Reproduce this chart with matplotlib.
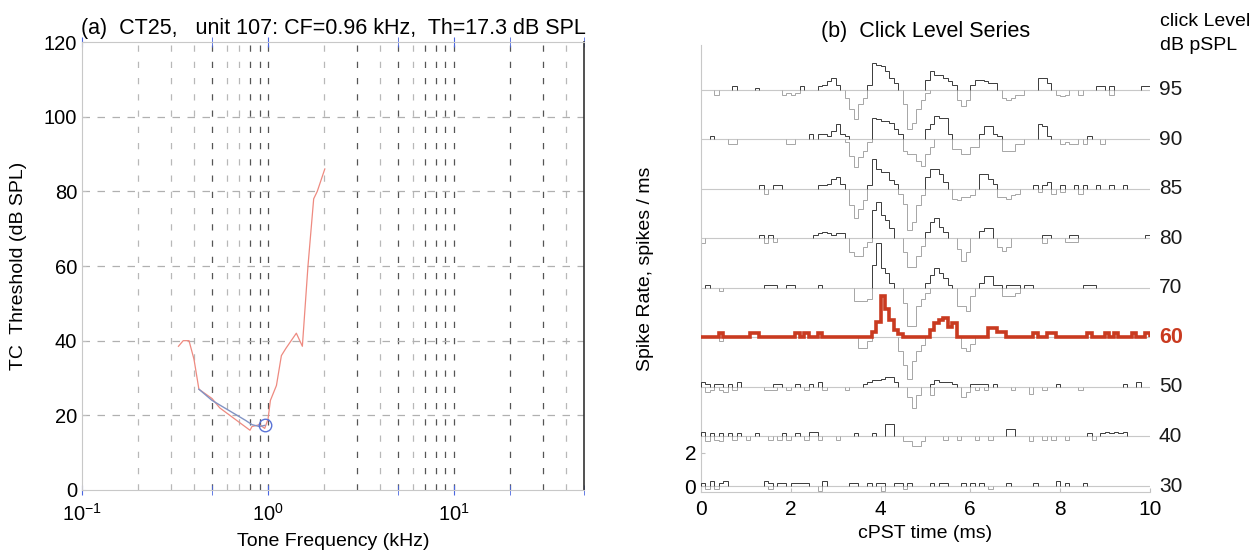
import numpy as np
import matplotlib.pyplot as plt

plt.rcParams['font.family'] = ['Liberation Sans', 'DejaVu Sans']

# ---------------- panel (a): tuning curve ----------------
tc_freq = [0.33, 0.35, 0.376, 0.40, 0.425, 0.50, 0.55, 0.80, 0.82, 0.90, 0.96, 1.00,
           1.03, 1.11, 1.18, 1.25, 1.42, 1.53, 1.64, 1.76, 1.84, 2.02]
tc_thr = [38.5, 40, 40, 35, 27, 24.5, 22, 16, 17, 17.5, 16.5, 19,
          24, 28, 36, 38, 42, 38.5, 60, 78, 80, 86]
fit_freq = [0.425, 0.50, 0.76, 0.82, 0.90, 0.96]
fit_thr = [27, 24, 18.6, 17.5, 17, 17.3]
cf_khz = 0.96
cf_thr = 17.3

# ---------------- panel (b): click level series ----------------
# cPST histograms, 0.1 ms bins from 0 to 10 ms (spikes/ms)
# up = condensation-click half (drawn upward), dn = rarefaction half (drawn downward)
levels = [95, 90, 85, 80, 70, 60, 50, 40, 30]
offsets = [24, 21, 18, 15, 12, 9, 6, 3, 0]

up95 = [0, 0, 0, 0, 0, 0, 0, 0.2, 0, 0,   0, 0, 0.1, 0, 0, 0, 0, 0, 0, 0,
        0, 0, 0.2, 0, 0, 0, 0.2, 0.3, 0.5, 0.7,   0.3, 0, 0, 0, 0, 0, 0, 0.3, 1.6, 1.5,
        1.4, 1.1, 0.7, 0.4, 0, 0, 0, 0, 0, 0,   0.6, 1.1, 0.9, 0.9, 0.7, 0.5, 0.3, 0, 0, 0,
        0.3, 0.6, 0.6, 0.5, 0.4, 0.4, 0, 0, 0, 0,   0, 0, 0, 0, 0, 0.7, 0.7, 0.4, 0, 0,
        0, 0, 0, 0, 0, 0, 0, 0, 0.2, 0.2,   0, 0.2, 0, 0, 0, 0, 0, 0, 0.2, 0.2]
dn95 = [0, 0, 0, 0.3, 0, 0, 0, 0, 0, 0,   0, 0, 0, 0, 0, 0, 0, 0, 0.3, 0.2,
        0.3, 0.2, 0, 0, 0, 0, 0, 0, 0, 0,   0, 0, 0.5, 1.2, 1.8, 0.9, 0.5, 0, 0, 0,
        0, 0, 0, 0, 0, 0.9, 2.4, 2.0, 1.2, 0.6,   0.2, 0, 0, 0, 0, 0, 0, 0.6, 1.0, 0.6,
        0, 0, 0, 0, 0, 0, 0, 0.5, 0.6, 0.5,   0.3, 0.3, 0, 0, 0, 0, 0, 0, 0, 0.3,
        0.4, 0.3, 0, 0, 0.3, 0, 0, 0, 0, 0,   0, 0.3, 0, 0, 0, 0, 0, 0, 0, 0]

up90 = [0, 0, 0.2, 0, 0, 0, 0, 0, 0, 0,   0, 0, 0, 0, 0, 0, 0, 0, 0, 0,
        0, 0, 0, 0, 0.3, 0, 0.3, 0.3, 0.2, 0.5,   0.9, 0.3, 0.2, 0, 0, 0, 0, 0, 1.3, 1.2,
        1.1, 1.1, 1.0, 0.6, 0.3, 0, 0, 0, 0, 0,   0.6, 0.9, 1.4, 1.3, 1.3, 0.3, 0, 0, 0, 0,
        0, 0, 0.3, 0.8, 0.8, 0.3, 0.2, 0, 0, 0,   0, 0, 0, 0, 0, 0.9, 0.8, 0.2, 0, 0,
        0, 0, 0, 0, 0, 0, 0.2, 0, 0, 0,   0, 0, 0, 0, 0, 0, 0, 0, 0, 0]
dn90 = [0, 0, 0, 0, 0, 0, 0.3, 0.3, 0, 0,   0, 0, 0, 0, 0, 0, 0, 0, 0, 0.3,
        0.3, 0, 0, 0, 0, 0, 0, 0, 0, 0,   0, 0, 0.2, 1.0, 1.7, 1.1, 0.7, 0.2, 0, 0,
        0, 0, 0, 0, 0, 0.7, 0.9, 0.9, 1.3, 1.6,   0.9, 0.5, 0, 0, 0, 0, 0.6, 0.6, 0.9, 0.9,
        0.5, 0.5, 0, 0, 0, 0, 0, 0.7, 0.7, 0.7,   0.3, 0.3, 0, 0, 0, 0, 0, 0, 0, 0,
        0.3, 0.2, 0.3, 0.3, 0, 0.3, 0, 0, 0, 0.3,   0, 0, 0, 0, 0, 0, 0, 0, 0, 0]

up85 = [0, 0, 0, 0, 0, 0, 0, 0, 0, 0,   0, 0, 0, 0.2, 0, 0, 0.2, 0.2, 0, 0,
        0, 0, 0, 0, 0, 0, 0.2, 0.2, 0.3, 0.6,   0.7, 0.3, 0, 0, 0, 0, 0, 0.2, 1.8, 1.2,
        1.0, 1.0, 0.5, 0.3, 0, 0, 0, 0, 0, 0,   0.7, 1.2, 1.2, 0.9, 0.4, 0, 0, 0, 0, 0,
        0, 0, 0.9, 0.9, 0.6, 0.3, 0, 0, 0, 0,   0, 0, 0, 0, 0.2, 0, 0.2, 0.4, 0, 0,
        0.2, 0, 0, 0.2, 0, 0.2, 0, 0, 0.2, 0,   0, 0.2, 0, 0, 0.2, 0, 0, 0, 0, 0]
dn85 = [0, 0, 0, 0, 0, 0, 0, 0, 0, 0,   0, 0, 0, 0, 0.3, 0, 0, 0, 0, 0,
        0, 0, 0, 0, 0, 0, 0, 0, 0, 0,   0, 0, 0, 1.0, 1.8, 1.2, 0.7, 0, 0, 0,
        0, 0, 0, 0, 0.3, 0.9, 2.5, 2.0, 1.0, 0.4,   0, 0, 0, 0, 0, 0, 0.6, 0.7, 0.5, 0.5,
        0.4, 0, 0, 0, 0, 0, 0.5, 0.5, 0.6, 0.4,   0.3, 0, 0, 0, 0, 0.2, 0, 0, 0.3, 0,
        0.2, 0, 0, 0, 0.3, 0, 0, 0, 0, 0,   0, 0, 0, 0, 0, 0, 0, 0, 0, 0]

up80 = [0, 0, 0, 0, 0, 0, 0, 0, 0, 0,   0, 0, 0, 0.2, 0, 0.2, 0, 0, 0, 0,
        0, 0, 0, 0, 0, 0.2, 0.3, 0.4, 0.3, 0.2,   0.3, 0.3, 0, 0, 0, 0, 0, 0, 1.7, 2.2,
        1.4, 1.1, 0.6, 0, 0, 0, 0, 0, 0, 0,   0.35, 1.0, 1.2, 0.7, 0.35, 0, 0, 0, 0, 0,
        0, 0, 0.45, 0.65, 0.65, 0, 0, 0, 0, 0,   0, 0, 0, 0, 0, 0, 0.2, 0.2, 0, 0,
        0, 0, 0.2, 0.2, 0, 0, 0, 0, 0, 0,   0, 0, 0, 0, 0, 0, 0, 0, 0, 0.2]
dn80 = [0.3, 0, 0, 0, 0, 0, 0, 0, 0, 0,   0, 0, 0, 0, 0.3, 0, 0.2, 0, 0, 0,
        0, 0, 0, 0, 0, 0, 0, 0, 0, 0,   0, 0, 0, 0.85, 1.05, 1.05, 0.55, 0.2, 0, 0,
        0, 0, 0, 0, 0, 0.85, 1.75, 1.75, 1.05, 0.45,   0, 0, 0, 0, 0, 0, 0, 0.65, 1.35, 0.85,
        0, 0, 0, 0, 0, 0, 0.55, 0.75, 0.55, 0,   0, 0, 0, 0, 0, 0, 0.3, 0, 0, 0,
        0, 0.2, 0.2, 0.2, 0, 0, 0, 0, 0, 0,   0, 0, 0, 0, 0, 0, 0, 0, 0, 0]

up70 = [0, 0.2, 0, 0, 0, 0, 0, 0, 0, 0,   0, 0, 0, 0, 0.2, 0.2, 0.2, 0, 0, 0.2,
        0.2, 0, 0, 0, 0, 0, 0.2, 0, 0, 0,   0, 0, 0, 0, 0, 0, 0, 0, 1.4, 2.7,
        1.2, 0.9, 0.3, 0, 0, 0, 0, 0, 0, 0,   0.3, 0.8, 1.2, 0.9, 0.6, 0.2, 0, 0, 0, 0,
        0, 0, 0.3, 0.7, 0.7, 0.2, 0.2, 0, 0.2, 0.2,   0.2, 0, 0.2, 0.2, 0, 0, 0, 0, 0, 0,
        0, 0, 0, 0, 0, 0.2, 0.2, 0.2, 0, 0,   0, 0, 0, 0, 0, 0, 0, 0, 0, 0]
dn70 = [0, 0, 0, 0, 0.2, 0, 0, 0, 0, 0,   0, 0, 0, 0, 0, 0, 0, 0, 0, 0,
        0, 0, 0, 0, 0, 0, 0, 0, 0, 0,   0, 0, 0, 0, 0.8, 0.8, 0.8, 0.7, 0, 0,
        0, 0, 0, 0, 0, 0.9, 2.3, 2.3, 1.1, 0.7,   0.3, 0, 0, 0, 0, 0, 0, 1.1, 1.1, 1.4,
        0.5, 0, 0, 0, 0, 0, 0, 0.5, 0.5, 0.5,   0.3, 0, 0, 0, 0, 0, 0, 0, 0, 0,
        0, 0, 0, 0, 0, 0, 0, 0, 0, 0,   0, 0, 0, 0, 0, 0, 0, 0, 0, 0]

up60 = [0, 0, 0, 0, 0.25, 0, 0, 0, 0, 0,   0, 0.25, 0.25, 0, 0, 0, 0, 0, 0, 0,
        0, 0.25, 0, 0.25, 0, 0, 0.25, 0, 0, 0,   0, 0, 0, 0, 0, 0, 0, 0, 0.35, 0.9,
        2.5, 1.7, 1.05, 0.45, 0.2, 0, 0, 0, 0, 0,   0, 0.45, 0.85, 1.05, 1.15, 0.65, 0.85, 0, 0, 0,
        0, 0, 0, 0, 0.55, 0.55, 0.35, 0.35, 0, 0,   0, 0, 0, 0, 0.25, 0, 0, 0.25, 0.25, 0,
        0, 0, 0, 0, 0, 0, 0.25, 0, 0, 0,   0.25, 0, 0.25, 0, 0, 0, 0.25, 0, 0, 0.25]
dn60 = [0, 0, 0, 0, 0.2, 0, 0, 0, 0, 0,   0, 0, 0, 0, 0, 0, 0, 0, 0, 0,
        0, 0, 0, 0, 0, 0, 0, 0, 0, 0,   0, 0, 0, 0, 0, 0.65, 0.65, 0.25, 0, 0,
        0, 0, 0, 0, 0.85, 1.65, 2.55, 1.45, 0.85, 0.45,   0, 0, 0, 0, 0, 0, 0, 0, 0.65, 0.85,
        0.4, 0, 0, 0, 0, 0, 0, 0, 0, 0,   0, 0, 0, 0, 0, 0, 0, 0, 0, 0,
        0, 0, 0, 0, 0, 0, 0, 0, 0, 0,   0, 0, 0, 0, 0, 0, 0, 0, 0, 0]

up50 = [0.3, 0.2, 0, 0.2, 0.2, 0, 0.2, 0, 0.3, 0,   0, 0, 0, 0, 0, 0, 0.2, 0.2, 0, 0,
        0, 0.2, 0, 0, 0.2, 0, 0.3, 0, 0, 0,   0, 0, 0, 0, 0, 0, 0.2, 0.3, 0.4, 0.4,
        0.45, 0.6, 0.6, 0.3, 0, 0, 0, 0, 0, 0,   0, 0.2, 0.4, 0.3, 0.3, 0.3, 0.2, 0, 0, 0,
        0.2, 0.2, 0.2, 0.2, 0, 0.2, 0, 0, 0, 0,   0, 0, 0, 0, 0, 0, 0, 0, 0, 0.2,
        0, 0, 0, 0, 0, 0, 0, 0, 0, 0,   0, 0, 0, 0, 0.2, 0, 0, 0.3, 0, 0]
dn50 = [0, 0.3, 0.2, 0, 0.2, 0.3, 0, 0.2, 0, 0,   0, 0, 0, 0, 0.2, 0.2, 0.2, 0, 0, 0.2,
        0, 0, 0, 0.2, 0, 0, 0, 0.2, 0, 0,   0, 0, 0.2, 0, 0, 0, 0, 0, 0, 0,
        0, 0, 0, 0, 0, 0, 0.6, 1.3, 0.5, 0,   0, 0.5, 0, 0, 0, 0, 0, 0, 0.6, 0.3,
        0, 0.2, 0, 0.2, 0, 0, 0, 0, 0, 0.2,   0, 0, 0, 0.4, 0, 0, 0.2, 0, 0, 0,
        0, 0, 0, 0, 0.2, 0, 0, 0, 0, 0,   0, 0, 0, 0, 0, 0, 0, 0, 0, 0]

up40 = [0.3, 0, 0.2, 0, 0.2, 0, 0.2, 0, 0.2, 0,   0, 0, 0.2, 0, 0, 0, 0, 0, 0.2, 0,
        0, 0.2, 0, 0, 0.3, 0.3, 0, 0, 0, 0,   0, 0, 0, 0, 0.2, 0, 0, 0, 0.2, 0,
        0, 0.77, 0.77, 0, 0, 0, 0, 0, 0, 0,   0, 0, 0, 0, 0, 0, 0, 0, 0, 0,
        0, 0, 0, 0, 0, 0, 0, 0, 0.45, 0.45,   0, 0, 0, 0, 0, 0, 0, 0, 0, 0,
        0, 0, 0, 0, 0, 0, 0.2, 0, 0, 0.2,   0.3, 0.2, 0.3, 0.2, 0.3, 0, 0, 0, 0, 0]
dn40 = [0, 0.3, 0, 0.2, 0.3, 0, 0, 0.2, 0, 0,   0.2, 0, 0, 0, 0, 0.2, 0, 0.2, 0, 0.2,
        0, 0, 0, 0.2, 0, 0, 0.2, 0, 0, 0,   0.2, 0, 0, 0, 0, 0, 0, 0, 0, 0,
        0, 0, 0, 0, 0, 0.25, 0.25, 0.55, 0.55, 0.25,   0, 0, 0, 0, 0.2, 0, 0, 0.2, 0, 0,
        0, 0.2, 0, 0, 0.2, 0, 0, 0, 0, 0,   0, 0, 0, 0.3, 0, 0, 0.2, 0, 0.2, 0,
        0, 0.2, 0, 0, 0, 0, 0, 0.2, 0, 0,   0, 0, 0, 0, 0, 0, 0, 0, 0, 0]

up30 = [0.2, 0, 0.3, 0, 0.2, 0.3, 0, 0, 0, 0,   0, 0, 0, 0, 0.3, 0.2, 0, 0.2, 0.2, 0,
        0.2, 0.2, 0.2, 0.2, 0, 0, 0, 0.3, 0, 0,   0, 0, 0, 0.2, 0.2, 0, 0, 0.2, 0, 0.2,
        0.2, 0, 0, 0.2, 0.2, 0, 0.2, 0, 0, 0,   0, 0.2, 0, 0.2, 0.2, 0, 0, 0, 0.2, 0,
        0.2, 0, 0.2, 0, 0, 0, 0, 0, 0.2, 0,   0, 0, 0, 0, 0.2, 0, 0, 0, 0, 0.3,
        0, 0.2, 0, 0, 0, 0.2, 0, 0, 0, 0,   0, 0, 0, 0, 0, 0, 0, 0, 0, 0]
dn30 = [0, 0.2, 0, 0.2, 0, 0, 0, 0, 0, 0,   0, 0, 0, 0, 0, 0.2, 0, 0, 0, 0,
        0, 0, 0, 0, 0, 0, 0.3, 0, 0, 0,   0, 0, 0, 0, 0, 0, 0, 0, 0, 0,
        0.3, 0, 0, 0, 0, 0.2, 0, 0, 0, 0,   0, 0, 0, 0, 0, 0, 0, 0, 0, 0,
        0, 0, 0, 0, 0.2, 0, 0, 0, 0, 0,   0, 0, 0, 0, 0, 0, 0, 0, 0, 0,
        0, 0, 0, 0, 0, 0, 0, 0, 0, 0,   0, 0, 0, 0, 0, 0, 0, 0, 0, 0]

ups = [up95, up90, up85, up80, up70, up60, up50, up40, up30]
dns = [dn95, dn90, dn85, dn80, dn70, dn60, dn50, dn40, dn30]

RED = '#c93a20'


def draw_runs(ax, vals, edges, off, sign, **kw):
    # draw each run of non-empty bins as its own step outline so the
    # empty stretches only show the light baseline
    vals = np.asarray(vals, dtype=float)
    i = 0
    n = len(vals)
    while i < n:
        if vals[i] == 0:
            i += 1
            continue
        j = i
        while j < n and vals[j] != 0:
            j += 1
        ax.stairs(off + sign * vals[i:j], edges[i:j + 1], baseline=off, **kw)
        i = j


fig = plt.figure(figsize=(12.6, 5.5), dpi=100)

#======================================================================================
# panel (a)
#======================================================================================
ax1 = fig.add_axes([0.0651, 0.1091, 0.3984, 0.8145])
ax1.set_xscale('log')
ax1.set_xlim(0.1, 50)
ax1.set_ylim(0, 120)

# dashed grid like the matlab original
dark = {0.5, 0.8, 0.9, 1.0, 3.0, 5.0, 7.0, 8.0, 9.0, 10.0, 20.0, 30.0}
for e in (-1, 0, 1):
    for m in range(1, 10):
        xv = round(m * 10.0 ** e, 6)
        if xv <= 0.1 or xv >= 50:
            continue
        c = '#555555' if xv in dark else '#b8b8b8'
        ax1.axvline(xv, color=c, lw=0.9, ls=(0, (5, 8)), zorder=1)
for yv in (20, 40, 60, 80, 100):
    ax1.axhline(yv, color='#b0b0b0', lw=0.9, ls=(0, (6, 6)), zorder=1)

ax1.plot(tc_freq, tc_thr, color='#ee8a80', lw=0.9, zorder=3)
ax1.plot(fit_freq, fit_thr, color='#8193c4', lw=1.0, zorder=4)
ax1.plot([cf_khz], [cf_thr], 'o', ms=9, mfc='none', mec='#5b74d6', mew=1.0, zorder=5)

for s in ('left', 'bottom', 'top'):
    ax1.spines[s].set_color('#c8c8c8')
ax1.spines['right'].set_color('#333333')
ax1.spines['right'].set_linewidth(1.2)

ax1.set_yticks([0, 20, 40, 60, 80, 100, 120])
ax1.tick_params(axis='y', direction='in', length=3, color='#c0c0c0', labelsize=14.5)
ax1.set_xticks([0.1, 1, 10])
ax1.set_xticks([0.5, 5, 20, 50], minor=True)
ax1.tick_params(axis='x', which='both', direction='inout', length=7, color='#4a66e0',
                top=True, labelsize=14.5, pad=6)
ax1.tick_params(axis='x', which='minor', labelbottom=False)

ax1.set_xlabel('Tone Frequency (kHz)', fontsize=14, labelpad=6)
ax1.set_ylabel('TC  Threshold (dB SPL)', fontsize=14, labelpad=12)
ax1.set_title('(a)  CT25,   unit 107: CF=0.96 kHz,  Th=17.3 dB SPL', fontsize=15.5, pad=6)

#======================================================================================
# panel (b)
#======================================================================================
ax2 = fig.add_axes([0.5563, 0.1055, 0.3563, 0.8127])
edges = np.linspace(0, 10, 101)

for lev, off, up, dn in zip(levels, offsets, ups, dns):
    ax2.axhline(off, color='#c8c8c8', lw=0.8, zorder=1)
    draw_runs(ax2, dn, edges, off, -1, color='#a6a6a6', lw=0.7, zorder=2)
    if lev == 60:
        ax2.stairs(off + np.array(up), edges, baseline=off, color=RED, lw=2.6, zorder=4)
        ax2.text(1.02, off, str(lev), transform=ax2.get_yaxis_transform(),
                 color=RED, fontsize=15.5, fontweight='bold', va='center', ha='left')
    else:
        draw_runs(ax2, up, edges, off, 1, color='#3a3a3a', lw=0.7, zorder=3)
        ax2.text(1.02, off, str(lev), transform=ax2.get_yaxis_transform(),
                 color='#1a1a1a', fontsize=15, va='center', ha='left')

ax2.set_xlim(0, 10)
ax2.set_ylim(-0.36, 26.7)
ax2.spines['top'].set_visible(False)
ax2.spines['right'].set_visible(False)
ax2.spines['left'].set_color('#c8c8c8')
ax2.spines['bottom'].set_color('#c8c8c8')
ax2.set_xticks([0, 2, 4, 6, 8, 10])
ax2.set_yticks([0, 2])
ax2.tick_params(axis='both', direction='in', length=3, color='#c0c0c0', labelsize=15)
ax2.tick_params(axis='x', pad=6)
ax2.set_xlabel('cPST time (ms)', fontsize=14, labelpad=4)
ax2.set_ylabel('Spike Rate, spikes / ms', fontsize=14, labelpad=22)
ax2.set_title('(b)  Click Level Series', fontsize=15.5, pad=6)

fig.text(1160 / 1260, 1 - 22 / 550, 'click Level', fontsize=14, va='center', ha='left')
fig.text(1160 / 1260, 1 - 46 / 550, 'dB pSPL', fontsize=14, va='center', ha='left')

fig.savefig('out.png', dpi=100)
